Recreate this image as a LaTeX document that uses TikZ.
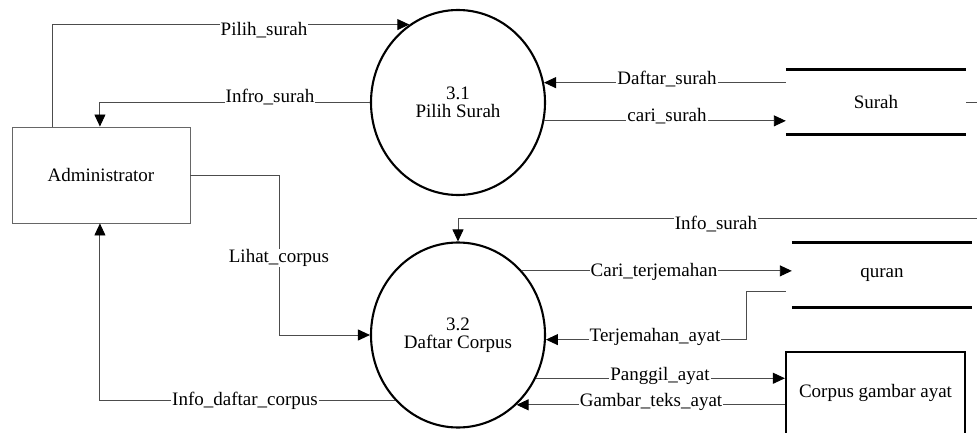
\documentclass[tikz,border=0pt]{standalone}
\usepackage{fontspec}
\setmainfont{Liberation Serif}
\usetikzlibrary{shapes.geometric,arrows.meta,calc}

\begin{document}
\begin{tikzpicture}[x=1pt,y=-1pt,
  every node/.style={font=\fontsize{19}{17.5}\selectfont},
  flow/.style={draw=black!70, line width=0.9pt,
    -{Triangle[length=12pt,width=11pt,color=black]}},
  wire/.style={draw=black!70, line width=0.9pt},
  proc/.style={ellipse, draw, line width=2.1pt, minimum width=174pt,
    minimum height=185pt, align=center, inner sep=0pt},
  entity/.style={rectangle, draw=black!60, line width=0.9pt,
    minimum width=178pt, minimum height=96pt},
  storebox/.style={rectangle, minimum width=180pt, minimum height=64pt},
  storeline/.style={line width=2.7pt},
  tag/.style={fill=white, inner xsep=1pt, inner ysep=0pt}
]
\useasboundingbox (0,0) rectangle (977,433);

% external entity, processes and data stores
\node[entity] (adm) at (101,175) {Administrator};
\node[proc] (c1) at (458,102.5) {3.1\\Pilih Surah};
\node[proc] (c2) at (458,335) {3.2\\Daftar Corpus};
\node[storebox] (s1) at (876,102) {Surah};
\node[storebox] (s2) at (882,275) {quran};
\node[rectangle, draw, line width=2.2pt, minimum width=179pt,
  minimum height=82pt] (cg) at (875.5,393) {Corpus gambar ayat};

\draw[storeline] (s1.north west) -- (s1.north east)
                 (s1.south west) -- (s1.south east);
\draw[storeline] (s2.north west) -- (s2.north east)
                 (s2.south west) -- (s2.south east);

% loose ends leaving the sheet on the right
\coordinate (edgeA) at (977,102);
\coordinate (edgeB) at (977,218);

% data flows
\draw[flow] ($(adm.north west)!0.23!(adm.north east)$) |- (c1.122);
\draw[flow] (c1.west) -| ($(adm.north west)!0.494!(adm.north east)$);
\draw[flow] (c1.13 -| s1.west) -- (c1.13);
\draw[flow] (c1.-12) -- (c1.-12 -| s1.west);
\draw[wire] (s1.east) -- (edgeA);
\draw[flow] (adm.east) -- ++(89,0) |- (c2.west);
\draw[flow] (c2.226) -| ($(adm.south west)!0.494!(adm.south east)$);
\draw[flow] (edgeB) -| (c2.north);
\draw[flow] (c2.45) -- (c2.45 -| s2.west);
\draw[flow] ($(s2.west)+(-6,16)$) -- ++(-39,0) |- (c2.-3);
\draw[flow] (c2.-29) -- (c2.-29 -| cg.west);
\draw[flow] (c2.-50 -| cg.west) -- (c2.-50);

% flow labels
\node[tag] (lPilih)  at (264,30)  {Pilih\_surah};
\node[tag] (lInfro)  at (270,97)  {Infro\_surah};
\node[tag] (lDaftar) at (667,79)  {Daftar\_surah};
\node[tag] (lCari)   at (667,116) {cari\_surah};
\node[tag] (lLihat)  at (279,258) {Lihat\_corpus};
\node[tag] (lIdc)    at (245,401) {Info\_daftar\_corpus};
\node[tag] (lInfo)   at (716,224) {Info\_surah};
\node[tag] (lCt)     at (654,272) {Cari\_terjemahan};
\node[tag] (lTa)     at (655,337) {Terjemahan\_ayat};
\node[tag] (lPa)     at (660,376) {Panggil\_ayat};
\node[tag] (lGta)    at (651,402) {Gambar\_teks\_ayat};
\end{tikzpicture}
\end{document}
